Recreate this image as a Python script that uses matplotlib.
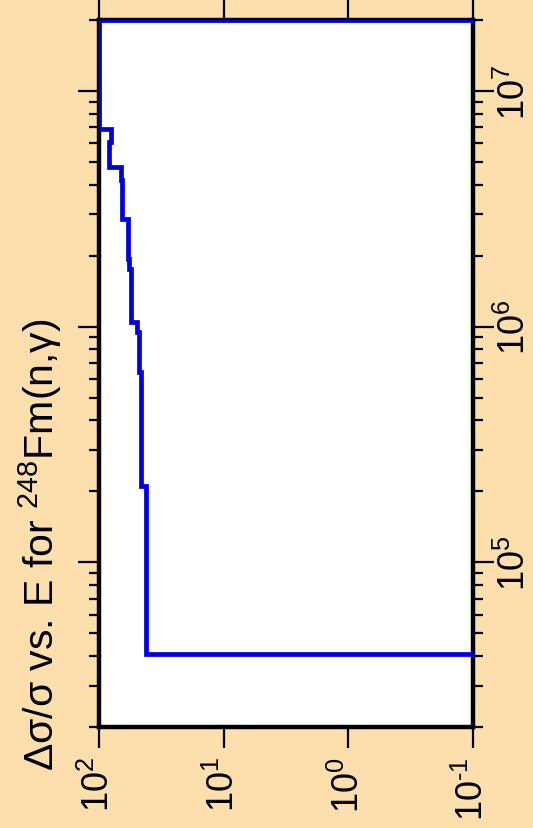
import numpy as np
import matplotlib
matplotlib.use("Agg")
from matplotlib import pyplot as plt
from matplotlib import ticker

plt.rcParams['font.family'] = ['Liberation Sans', 'DejaVu Sans']
plt.rcParams['mathtext.fontset'] = 'custom'
plt.rcParams['mathtext.rm'] = 'Liberation Sans'
plt.rcParams['mathtext.it'] = 'Liberation Sans:italic'
plt.rcParams['mathtext.bf'] = 'Liberation Sans:bold'

# bin edges in energy (eV), high to low, and relative uncertainty in each bin
energy_edges = [3.0e7, 2.0e7, 6.87e6, 6.10e6, 4.77e6, 4.17e6, 2.87e6, 1.94e6,
                1.76e6, 1.05e6, 9.5e5, 6.43e5, 2.11e5, 4.08e4, 1.0e4]
rel_unc = [0.01, 99.0, 80.0, 82.1, 66.5, 65.3, 58.5, 56.8, 55.3, 49.0, 47.5,
           46.0, 41.7, 0.01]

x_ticks = [1e2, 1e1, 1e0, 1e-1]
x_labels = [r'$10^{2}$', r'$10^{1}$', r'$10^{0}$', '$10^{\u2010 1}$']
y_ticks = [1e5, 1e6, 1e7]
y_labels = [r'$10^{5}$', r'$10^{6}$', r'$10^{7}$']

BG = '#fddead'
BLUE = '#0000dc'

fig = plt.figure(figsize=(5.33, 8.29), dpi=100, facecolor=BG)
ax = fig.add_axes([0.185, 0.1218, 0.703, 0.8529])
ax.set_facecolor('white')

# build step outline: vertical runs at constant value
xs = []
ys = []
for i, v in enumerate(rel_unc):
    xs += [v, v]
    ys += [energy_edges[i], energy_edges[i + 1]]
ax.plot(xs, ys, color=BLUE, lw=3.4, zorder=5, solid_joinstyle='miter')

ax.set_xscale('log')
ax.set_yscale('log')
ax.set_xlim(100, 0.1)
ax.set_ylim(2.0e4, 2.0e7)

ax.xaxis.set_major_locator(ticker.FixedLocator(x_ticks))
ax.xaxis.set_major_formatter(ticker.FixedFormatter(x_labels))
ax.xaxis.set_minor_locator(ticker.NullLocator())
ax.yaxis.set_major_locator(ticker.FixedLocator(y_ticks))
ax.yaxis.set_major_formatter(ticker.FixedFormatter(y_labels))
ax.yaxis.set_minor_locator(ticker.LogLocator(base=10, subs=np.arange(2, 10), numticks=20))
ax.yaxis.set_minor_formatter(ticker.NullFormatter())

for s in ax.spines.values():
    s.set_linewidth(3.2)
    s.set_color('black')

ax.tick_params(axis='both', which='major', direction='out', length=15, width=1.6,
               labelsize=26, top=True, right=True, labeltop=False, labelright=True,
               labelleft=False)
ax.tick_params(axis='y', which='minor', direction='out', length=7.5, width=1.6,
               left=True, right=True)
ax.tick_params(axis='x', which='major', pad=6)
ax.tick_params(axis='y', which='major', pad=2)

for lab in ax.get_xticklabels():
    lab.set_rotation(90)
for lab in ax.get_yticklabels():
    lab.set_rotation(90)
    lab.set_va('center')

fig.text(0.075, 0.343, r'Δσ/σ vs. E for $^{248}$Fm(n,γ)', rotation=90,
         fontsize=29.5, ha='center', va='center')

fig.savefig('out.png', dpi=100, facecolor=BG)
